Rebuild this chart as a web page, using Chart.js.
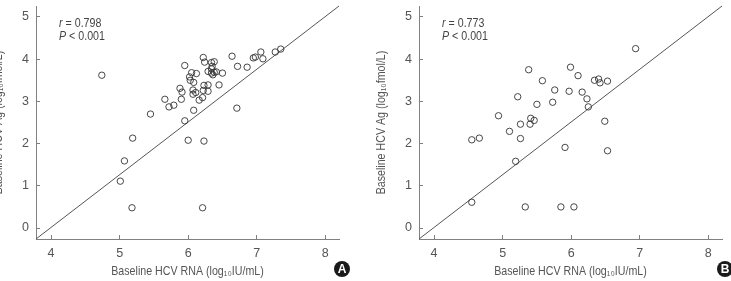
<!DOCTYPE html>
<html><head><meta charset="utf-8">
<script src="https://cdn.jsdelivr.net/npm/chart.js@4"></script>
<style>
html,body{margin:0;padding:0;background:#fff;overflow:hidden;width:731px;height:281px;position:relative}
canvas{position:absolute;top:0}
#cA{left:-19px}
#cB{left:364px}
</style></head><body>
<canvas id="cA" width="372" height="281"></canvas>
<canvas id="cB" width="372" height="281"></canvas>
<script>
// ---- data ----
const xTicks = [4, 5, 6, 7, 8];
const yTicks = [0, 1, 2, 3, 4, 5];
const xRange = [3.78, 8.2];
const yRange = [-0.26, 5.26];
const xTitle = 'Baseline HCV RNA (log\u2081\u2080IU/mL)';
const yTitle = 'Baseline HCV Ag (log\u2081\u2080fmol/L)';

const rnaA = [4.74,5.01,5.07,5.18,5.19,5.45,5.66,5.72,5.79,5.88,5.91,5.90,5.95,5.95,6.00,6.02,6.05,6.12,6.03,6.08,6.07,6.11,6.07,6.08,6.16,6.21,6.22,6.23,6.29,6.29,6.21,6.23,6.22,6.24,6.34,6.38,6.29,6.34,6.35,6.34,6.38,6.41,6.36,6.50,6.45,6.64,6.72,6.71,6.86,6.95,6.98,7.06,7.09,7.27,7.35];
const agA  = [3.62,1.11,1.59,0.48,2.13,2.70,3.05,2.87,2.91,3.31,3.22,3.05,3.85,2.54,2.08,3.58,3.68,3.66,3.50,3.45,3.27,3.21,3.17,2.79,3.03,3.09,3.26,3.38,3.39,3.24,0.48,2.06,4.04,3.93,3.92,3.94,3.71,3.77,3.83,3.67,3.69,3.70,3.63,3.67,3.39,4.07,3.83,2.84,3.81,4.03,4.05,4.17,4.01,4.17,4.24];

const rnaB = [6.94,5.38,5.99,6.10,5.58,6.34,6.40,6.42,6.53,5.76,5.97,6.16,5.22,6.23,5.73,5.50,6.25,4.94,5.26,5.41,5.46,5.40,6.49,5.10,4.55,4.66,5.26,5.19,5.91,6.53,4.55,5.33,5.85,6.04];
const agB  = [4.25,3.75,3.81,3.61,3.49,3.50,3.53,3.44,3.48,3.27,3.24,3.22,3.11,3.06,2.98,2.93,2.87,2.66,2.46,2.60,2.55,2.46,2.53,2.29,2.09,2.13,2.12,1.58,1.91,1.83,0.61,0.50,0.50,0.50];

const statA = {r: '0.798', p: '0.001', tag: 'A'};
const statB = {r: '0.773', p: '0.001', tag: 'B'};

// ---- styling ----
const FONT = "'Liberation Sans',Arial,sans-serif";
const TXT = '#555';
const AX = '#808080';
const SQ = 0.82; // horizontal condensing of the labels

function condensedText(ctx, text, x, y, font, align, rot) {
  ctx.save();
  ctx.translate(x, y);
  if (rot) ctx.rotate(rot);
  ctx.scale(SQ, 1);
  ctx.font = font;
  ctx.textAlign = align;
  ctx.fillText(text, 0, 0);
  const w = ctx.measureText(text).width * SQ;
  ctx.restore();
  return w;
}

const overlay = {
  id: 'overlay',
  afterDraw(chart, args, opts) {
    const {ctx, chartArea} = chart;
    ctx.save();
    // axis titles
    ctx.fillStyle = TXT;
    ctx.textBaseline = 'middle';
    condensedText(ctx, xTitle, (chartArea.left + chartArea.right) / 2, 271, '13px ' + FONT, 'center', 0);
    condensedText(ctx, yTitle, chartArea.left - 38, (chartArea.top + chartArea.bottom) / 2, '13px ' + FONT, 'center', -Math.PI / 2);
    // stats
    ctx.fillStyle = '#444';
    ctx.textBaseline = 'alphabetic';
    const lines = [['r', ' = ' + opts.r], ['P', ' < ' + opts.p]];
    lines.forEach((ln, i) => {
      const x = chartArea.left + 23;
      const y = 27 + i * 13;
      const w = condensedText(ctx, ln[0], x, y, 'italic 13px ' + FONT, 'left', 0);
      condensedText(ctx, ln[1], x + w, y, '13px ' + FONT, 'left', 0);
    });
    // badge
    const cx = chartArea.right + 3, cy = 269;
    ctx.beginPath();
    ctx.arc(cx, cy, 8, 0, Math.PI * 2);
    ctx.fillStyle = '#1a1a1a';
    ctx.fill();
    ctx.fillStyle = '#fff';
    ctx.font = 'bold 12px ' + FONT;
    ctx.textAlign = 'center';
    ctx.textBaseline = 'middle';
    ctx.fillText(opts.tag, cx, cy + 0.5);
    ctx.restore();
  }
};

function makeChart(id, xs, ys, stat) {
  const pts = xs.map((x, i) => ({x, y: ys[i]}));
  const diag = [{x: xRange[0], y: yRange[0]}, {x: xRange[1], y: yRange[1]}];
  new Chart(document.getElementById(id), {
    type: 'scatter',
    data: {
      datasets: [
        {type: 'line', data: diag, borderColor: '#555', borderWidth: 1, pointRadius: 0, fill: false, clip: false, order: 2},
        {data: pts, pointRadius: 3.2, pointBorderWidth: 0.9, borderColor: '#333', backgroundColor: 'rgba(255,255,255,0)', pointHoverRadius: 3.2, clip: false, order: 1}
      ]
    },
    options: {
      responsive: false,
      animation: false,
      events: [],
      layout: {padding: {top: 6, right: 14, left: 0, bottom: 0}},
      plugins: {legend: {display: false}, tooltip: {enabled: false}, overlay: stat},
      scales: {
        x: {
          type: 'linear', min: xRange[0], max: xRange[1],
          afterBuildTicks: s => { s.ticks = xTicks.map(v => ({value: v})); },
          afterFit: s => { s.height = 42; s.paddingLeft = 0; s.paddingRight = 0; },
          ticks: {padding: 11, color: TXT, font: {family: FONT, size: 12.5}, maxRotation: 0, autoSkip: false},
          grid: {drawOnChartArea: false, drawTicks: true, tickLength: -4, color: AX, lineWidth: 1},
          border: {display: true, color: AX, width: 1}
        },
        y: {
          type: 'linear', min: yRange[0], max: yRange[1],
          afterBuildTicks: s => { s.ticks = yTicks.map(v => ({value: v})); },
          afterFit: s => { s.width = 55; s.paddingTop = 0; s.paddingBottom = 0; },
          ticks: {padding: 11, color: TXT, font: {family: FONT, size: 12.5}, autoSkip: false},
          grid: {drawOnChartArea: false, drawTicks: true, tickLength: -4, color: AX, lineWidth: 1},
          border: {display: true, color: AX, width: 1}
        }
      }
    },
    plugins: [overlay]
  });
}

makeChart('cA', rnaA, agA, statA);
makeChart('cB', rnaB, agB, statB);
</script>
</body></html>
